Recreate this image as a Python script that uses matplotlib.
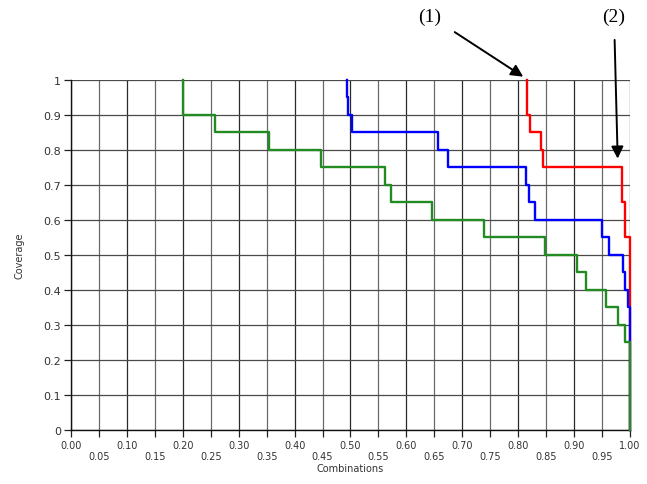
import matplotlib
matplotlib.use("Agg")
import matplotlib.pyplot as plt
import numpy as np

# Coverage curves: x where the coverage drops, and the level after each drop
START_LEVEL = 1.0

red_drops = [0.815, 0.821, 0.841, 0.845, 0.985, 0.991, 1.0]
red_levels = [0.90, 0.85, 0.80, 0.75, 0.65, 0.55, 0.0]

blue_drops = [0.493, 0.496, 0.503, 0.656, 0.675, 0.814, 0.819, 0.830,
              0.950, 0.962, 0.987, 0.991, 0.996, 1.0]
blue_levels = [0.95, 0.90, 0.85, 0.80, 0.75, 0.70, 0.65, 0.60,
               0.55, 0.50, 0.45, 0.40, 0.35, 0.0]

green_drops = [0.200, 0.258, 0.355, 0.448, 0.562, 0.573, 0.645, 0.739,
               0.848, 0.905, 0.921, 0.957, 0.979, 0.991, 1.0]
green_levels = [0.90, 0.85, 0.80, 0.75, 0.70, 0.65, 0.60, 0.55,
                0.50, 0.45, 0.40, 0.35, 0.30, 0.25, 0.0]

x_ticks = [round(0.05 * i, 2) for i in range(21)]
y_ticks = [round(0.1 * i, 1) for i in range(11)]
y_tick_labels = ["0", "0.1", "0.2", "0.3", "0.4", "0.5", "0.6", "0.7", "0.8", "0.9", "1"]

# annotation targets (data coords)
ann1_xy = (0.809, 1.009)
ann2_xy = (0.978, 0.775)


def step_curve(drops, levels):
    xs = [drops[0]] + list(drops)
    ys = [START_LEVEL] + list(levels)
    return xs, ys


fig = plt.figure(figsize=(6.47, 4.85), dpi=100)
ax = fig.add_axes([0.1097, 0.1113, 0.864, 0.722])

# gridlines alternate a bit between darker and lighter grey in the original
for i, xv in enumerate(x_ticks):
    ax.axvline(xv, color="#2a2a2a" if i % 2 == 0 else "#6a6a6a", lw=0.9, zorder=1)
for i, yv in enumerate(y_ticks):
    ax.axhline(yv, color="#4a4a4a", lw=0.9, zorder=1)

for drops, levels, col in [(red_drops, red_levels, "#ff0000"),
                           (blue_drops, blue_levels, "#0000ff"),
                           (green_drops, green_levels, "#228b22")]:
    xs, ys = step_curve(drops, levels)
    ax.plot(xs, ys, drawstyle="steps-post", color=col, lw=1.7, zorder=3,
            clip_on=False)

ax.set_xlim(0, 1)
ax.set_ylim(0, 1)

ax.set_xticks(x_ticks)
ax.set_xticklabels([f"{v:.2f}" if i % 2 == 0 else f"\n{v:.2f}"
                    for i, v in enumerate(x_ticks)])
ax.set_yticks(y_ticks)
ax.set_yticklabels(y_tick_labels)
ax.tick_params(axis="x", direction="out", length=5, width=0.9, color="#222222",
               labelsize=7, labelcolor="#333333", pad=2)
ax.tick_params(axis="y", direction="out", length=5, width=0.9, color="#222222",
               labelsize=8, labelcolor="#333333", pad=2)

for side in ["top", "right"]:
    ax.spines[side].set_visible(False)
for side in ["left", "bottom"]:
    ax.spines[side].set_color("#111111")
    ax.spines[side].set_linewidth(1.0)

ax.set_xlabel("Combinations", fontsize=7, color="#333333", labelpad=1)
ax.set_ylabel("Coverage", fontsize=7, color="#333333", labelpad=14)

ax.annotate("(1)", xy=ann1_xy, xycoords="data",
            xytext=(430, 468), textcoords="figure pixels",
            ha="center", va="center", fontsize=14, family="Liberation Serif",
            arrowprops=dict(arrowstyle="-|>", color="black", lw=1.4,
                            mutation_scale=18, shrinkA=9, shrinkB=0),
            annotation_clip=False)
ax.annotate("(2)", xy=ann2_xy, xycoords="data",
            xytext=(614, 468), textcoords="figure pixels",
            ha="center", va="center", fontsize=14, family="Liberation Serif",
            arrowprops=dict(arrowstyle="-|>", color="black", lw=1.4,
                            mutation_scale=18, shrinkA=9, shrinkB=0),
            annotation_clip=False)

fig.savefig("out.png", dpi=100)
